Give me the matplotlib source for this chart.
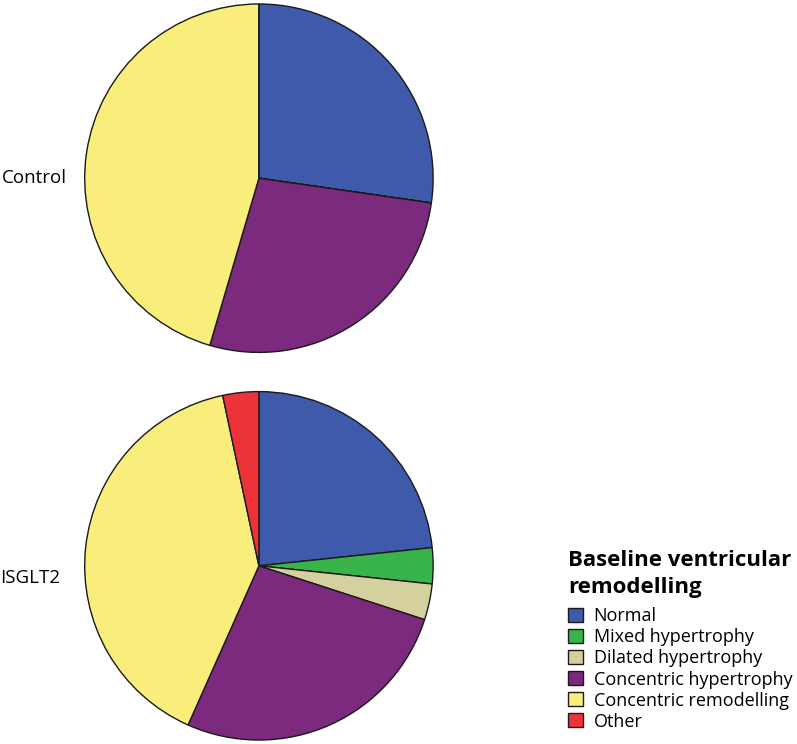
import matplotlib.pyplot as plt

plt.rcParams['font.family'] = ['Open Sans', 'DejaVu Sans']

categories = ['Normal', 'Mixed hypertrophy', 'Dilated hypertrophy',
              'Concentric hypertrophy', 'Concentric remodelling', 'Other']
colors = ['#3f59ab', '#39b44a', '#d5d19e', '#7b2a7d', '#f9ee7c', '#ee3338']

control = [3, 0, 0, 3, 5, 0]
isglt2 = [7, 1, 1, 8, 12, 1]
groups = ['Control', 'ISGLT2']

fig = plt.figure(figsize=(7.97, 7.44), dpi=100)

ax1 = fig.add_axes([0.104, 0.524, 0.4417, 0.473])
ax2 = fig.add_axes([0.104, 0.003, 0.4417, 0.473])

wp = dict(edgecolor='#1a1a1a', linewidth=1.0)
w1, _ = ax1.pie(control, colors=colors, startangle=90, counterclock=False,
                wedgeprops=wp)
w2, _ = ax2.pie(isglt2, colors=colors, startangle=90, counterclock=False,
                wedgeprops=wp)
for ax in (ax1, ax2):
    ax.set_aspect('equal')
    ax.set_xlim(-1.01, 1.01)
    ax.set_ylim(-1.01, 1.01)

fig.text(0.002, 1 - 178 / 744, groups[0], fontsize=13.5, va='center', ha='left')
fig.text(0.000, 1 - 578 / 744, groups[1], fontsize=13.5, va='center', ha='left')

leg = fig.legend(w2, categories, loc='upper left',
                 bbox_to_anchor=(0.713, 1 - 550 / 744),
                 title='Baseline ventricular\nremodelling',
                 title_fontproperties={'weight': 'bold', 'size': 16},
                 fontsize=13, frameon=False, alignment='left',
                 handlelength=0.8, handleheight=0.8, handletextpad=0.6,
                 labelspacing=0.17, borderaxespad=0, borderpad=0)
leg.get_title().set_linespacing(1.35)
leg._legend_box.sep = 7

fig.savefig('out.png', dpi=100)
